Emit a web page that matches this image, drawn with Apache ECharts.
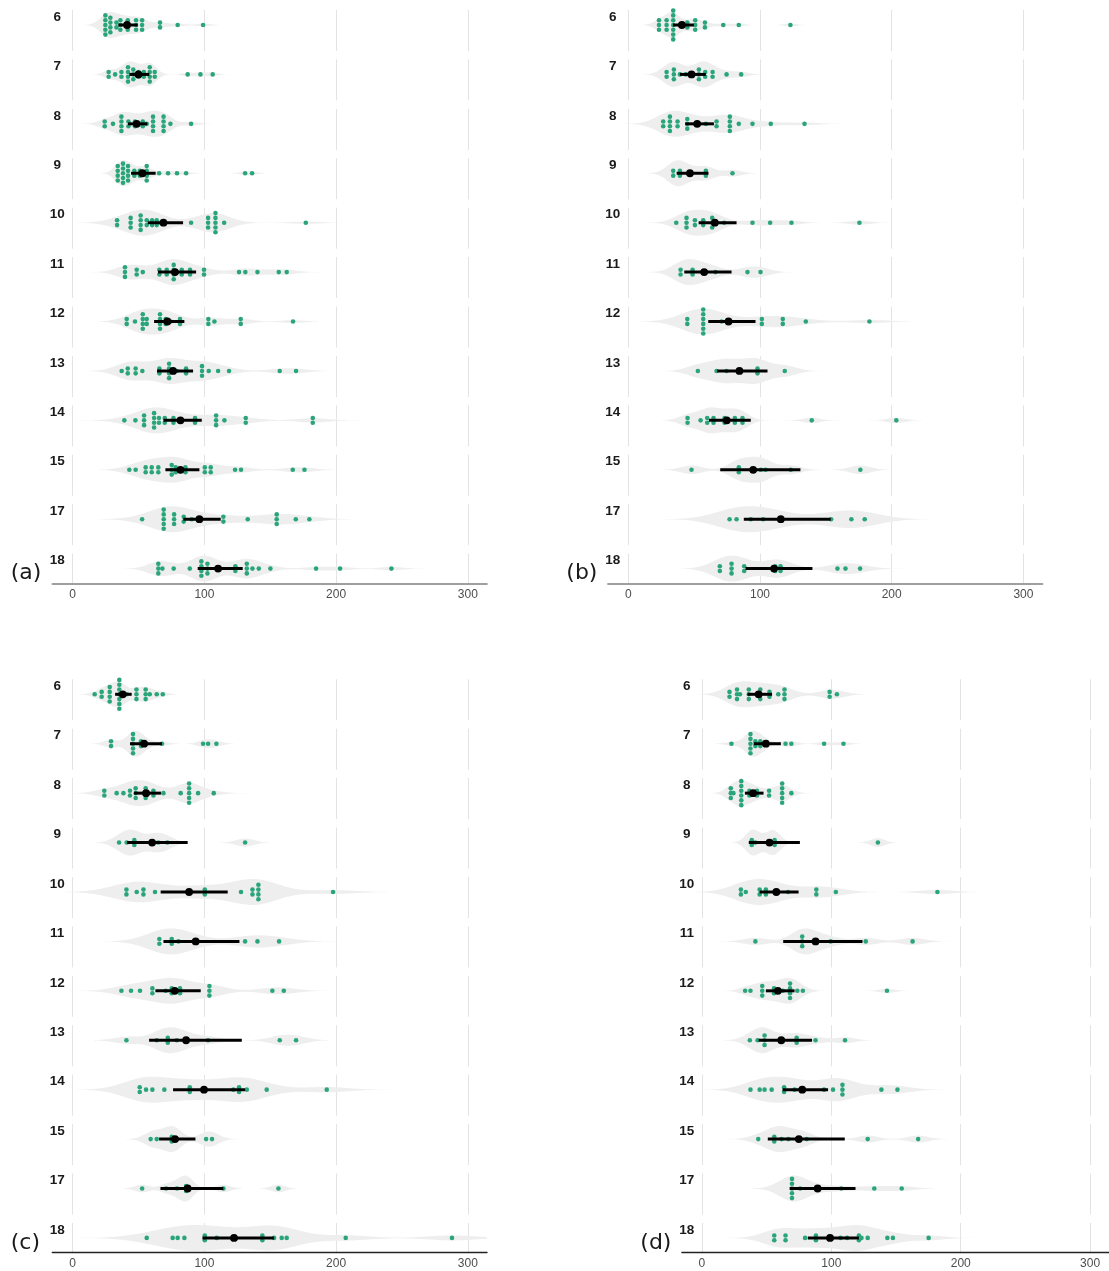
<!DOCTYPE html>
<html><head><meta charset="utf-8">
<script src="https://cdn.jsdelivr.net/npm/echarts@6/dist/echarts.min.js"></script>
<style>html,body{margin:0;padding:0;background:#fff}#chart{width:1109px;height:1271px}</style>
</head><body><div id="chart"></div>
<script>
// ---------------- data ----------------
const rowLabels = ['6','7','8','9','10','11','12','13','14','15','17','18'];
const tickValues = [0, 100, 200, 300];
const panelLetters = ['(a)', '(b)', '(c)', '(d)'];

const valuesA = [
[24.8,24.8,24.8,24.8,24.8,28.6,28.6,28.6,28.6,33.2,33.2,36.2,36.2,36.2,41.8,41.8,41.8,48.1,48.1,48.1,52.7,52.7,52.7,66.3,66.3,79.7,99],
[27.3,27.3,32.2,37,37,42,42,42,42,46,46,46,50,50,54,54,58.5,58.5,58.5,58.5,62.3,62.3,87.3,97,106.3],
[24.3,24.3,30.6,37,37,37,37,42.3,42.3,47.3,47.3,53.2,53.2,56.2,61,61,61,61,69,69,69,69,74.2,89.9],
[34.2,34.2,34.2,34.2,38.2,38.2,38.2,38.2,38.2,42,42,42,42,46.8,46.8,51,51,56.2,56.2,56.2,56.2,65.6,72.4,79.2,86.1,130.9,136.2],
[33.7,33.7,44,44,44,51.6,51.6,51.6,51.6,56.2,56.2,60.3,60.3,63.8,63.8,67.3,89.9,102.8,102.8,102.8,108.4,108.4,108.4,108.4,108.4,115,177],
[39.7,39.7,39.7,48.6,48.6,53.2,65.8,65.8,71.4,71.4,76.7,76.7,76.7,76.7,82.8,82.8,89.1,89.1,99.7,99.7,126.3,131.1,140.3,156.5,162.5],
[41,41,47.3,53.2,53.2,53.2,53.2,56.2,56.2,66.3,66.3,66.3,66.3,70.6,70.6,74.4,81.5,81.5,103,103,107.6,127.6,127.6,167.3],
[37.2,41.8,41.8,47.8,47.8,52.9,65.8,65.8,73.2,73.2,73.2,73.2,79,86.1,86.1,98.2,98.2,98.2,103.3,110.4,118.7,157.2,169.6],
[39.2,47.6,54.2,54.2,54.2,61.8,61.8,61.8,61.8,65.5,65.5,69.9,69.9,76.5,76.5,81.8,92.9,92.9,108.9,108.9,108.9,115.2,131.4,131.4,182.3,182.3],
[43,47.8,55.4,55.4,60,60,65,65,75.2,75.2,75.2,78.2,78.2,81.8,85.6,85.6,100.3,100.3,104.8,104.8,123.3,127.8,167.1,176],
[52.7,69.1,69.1,69.1,69.1,69.1,77,77,77,84.3,84.3,90.4,96.2,114.4,114.4,132.9,154.9,154.9,154.9,169.4,179.7],
[65,65,65,68.1,76.7,88.9,97.7,97.7,97.7,97.7,102.3,102.3,102.3,110.4,123.5,123.5,132.2,132.2,132.2,136.5,141.3,150.1,184.8,203,242]
];
const meanA = [41.3,49.9,48.6,52.9,68.9,77.7,71.9,76.2,81.8,81.8,96.2,110.4];
const lowA  = [34.7,43,42,44.3,57,64.8,61.8,64,68.9,70.4,84,94.9];
const highA = [49.4,58.2,56.7,63,83.8,93.7,84.8,91.4,98,96.2,112.4,129.1];

const valuesB = [
[23.3,23.3,23.3,29.1,29.1,29.1,34.1,34.1,34.1,34.1,34.1,34.1,34.1,39.2,44.8,44.8,50.8,50.8,50.8,58.2,58.2,72.1,83.9,123.1],
[29.1,29.1,34.6,34.6,34.6,39.2,43.7,53.6,53.6,53.6,58.4,58.4,64,64,74.6,85.7],
[26.5,26.5,31.6,31.6,31.6,31.6,37.4,37.4,44.8,44.8,44.8,52.3,58.9,67,67,77.1,77.1,77.1,77.1,83.9,94.3,108.2,133.8],
[34.1,34.1,39.2,39.2,46.8,58.9,58.9,79.1],
[36.4,44.2,44.2,44.2,50.6,50.6,56.9,56.9,63.7,63.7,63.7,72.8,94.3,107.7,123.9,175.5],
[39.7,39.7,48.8,48.8,57.6,66.2,90.5,100.4],
[44.8,44.8,56.9,56.9,56.9,56.9,56.9,56.9,70.8,76.1,101.4,101.4,117.3,117.3,134.8,183.1],
[52.8,67,74.6,84.4,98.1,98.1,118.8],
[45,45,54.9,59.9,59.9,64.7,64.7,73.1,73.1,80.9,80.9,86.7,86.7,139.3,203.5],
[48,83.9,83.9,94.8,100.6,104.2,123.4,176.2],
[76.9,82.2,93,102.4,115.8,154,169.4,179.5],
[69.5,69.5,78.4,78.4,78.4,88,88,111.5,111.5,115.6,115.6,158.8,164.9,176]
];
const meanB = [40.7,48,52.3,46.8,65.7,57.6,76.1,84.4,74.8,94.8,115.8,110.7];
const lowB  = [33.9,39.2,43.2,36.7,53.4,42.5,60.7,67.5,61.2,69.8,87.7,89];
const highB = [49.8,58.9,65,60.9,82.2,78.4,96.6,105.7,93,130.7,153.7,139.8];

const valuesC = [
[16.7,22,22,28.1,28.1,28.1,28.1,35.4,35.4,35.4,35.4,35.4,35.4,35.4,41,48.4,48.4,48.4,55.4,55.4,55.4,58.5,63.8,68.4],
[29.1,29.1,45.8,45.8,45.8,45.8,45.8,51.9,51.9,54.2,67.8,99,102.8,109.1],
[24,24,33.4,38.5,43.5,43.5,47.8,47.8,47.8,55.4,55.4,55.4,61.3,61.3,68.9,82,88.4,88.4,88.4,88.4,88.4,95.2,107.1],
[35.2,41,46.8,46.8,60.3,65,71.9,130.9],
[40.8,40.8,48.6,53.7,53.7,62.5,88.4,100.3,100.3,127.8,136.5,136.5,141,141,141,141,197.7],
[65.8,65.8,75.2,75.2,80.3,93.4,130.9,140.3,156.7],
[37,44.3,51.1,60.5,60.5,70.6,75.2,75.2,79,81.5,81.5,103.8,103.8,103.8,151.6,160.3],
[40.8,63.8,72.2,72.2,79,86.1,102.8,157.2,169.6],
[50.9,50.9,55.7,60.5,69.6,88.9,88.9,99.7,122,126.3,126.3,132.2,147.3,192.9],
[59.2,63.8,75.2,75.2,77.7,101.3,105.8],
[52.7,70.9,79.2,86.1,86.1,87.3,114.4,156.2],
[56.2,75.9,79.7,84.8,100.3,100.3,109.4,122.5,144,144,152.9,158.7,162.5,207.3,288]
];
const meanC = [38,54.2,55.7,60.3,88.4,93.4,77.5,86.1,99.7,77.7,87.3,122.5];
const lowC  = [32.2,43.5,46.6,41.3,66.8,68.9,62.8,58,76.2,65.6,66.6,98.5];
const highC = [44.8,67.8,67,87.3,117.7,126.6,97.2,128.4,130.9,93.2,114.4,152.9];

const valuesD = [
[21.3,21.3,27.1,27.1,27.1,29.4,36.2,36.2,36.2,45.1,45.1,45.1,52.2,52.2,59,63.8,63.8,63.8,98.7,98.7,104.3],
[22.8,37.5,37.5,37.5,37.5,37.5,41.3,41.3,45.1,45.1,49.4,64.6,69.1,94.4,109.4],
[22.3,22.3,22.3,24.3,30.4,30.4,30.4,30.4,30.4,30.4,36.7,36.7,39.5,42.5,42.5,51.9,51.9,62,62,62,62,62,69.1],
[38.5,38.5,41.3,52.2,56.2,56.2,136],
[30.1,30.1,33.9,44.6,44.6,49.4,49.4,57.5,66.6,88.4,88.4,103.5,182],
[41.3,77.5,77.5,77.5,87.8,99.5,126.6,162.8],
[33.4,37.5,46.6,46.6,46.6,55.7,55.7,58.7,62.5,68.1,68.1,68.1,68.1,73.7,78,143],
[37,43,48.4,48.4,48.4,61.3,73.2,73.2,87.8,110.6],
[37.5,44.6,48.4,53.9,63.5,63.5,71.6,77.5,94.4,101.3,108.6,108.6,108.6,138.7,151.1],
[43.5,55.9,55.9,61.5,66.8,74.9,81,128.1,167.1],
[69.6,69.6,69.6,69.6,69.6,75.9,89.4,107.6,133.2,154.4],
[55.9,55.9,64.6,64.6,79.7,88.1,88.1,99,107.1,112.2,121.3,121.3,123.3,128.1,143.3,147.6,175.2]
];
const meanD = [43.8,49.4,39.5,52.2,57.5,87.8,58.7,61.3,77.5,74.9,89.4,99];
const lowD  = [35.2,40,33.2,36.2,44.6,62.8,49.4,43.8,62.3,50.9,67.8,81.8];
const highD = [54.2,61,47.6,75.7,74.7,124.1,71.6,85.1,97.5,110.4,118.7,121.3];

// ---------------- layout / style ----------------
const PX = 1.317;            // pixels per x unit
const XMIN = -15.5, XMAX = 314.6;
const PITCH = 49.42;         // facet pitch (px)
const FACET_UP = 15, FACET_DOWN = 26, LAST_DOWN = 14.7;
const HALF_W = 13;           // violin max half width (px)
const DOT_STEP = 4.8;        // beeswarm vertical step (px)
const BW_ADJUST = 0.72;
const GREEN = '#2aa57a', VIOLIN = '#eeeeee', GRID = '#e3e3e3';

const panels = [
  {values: valuesA, mean: meanA, low: lowA, high: highA, x0: 72.7,  y0: 25,    axisColor: '#808080', axisWidth: 1.6},
  {values: valuesB, mean: meanB, low: lowB, high: highB, x0: 628.3, y0: 25,    axisColor: '#808080', axisWidth: 1.6},
  {values: valuesC, mean: meanC, low: lowC, high: highC, x0: 72.7,  y0: 694.3, axisColor: '#222222', axisWidth: 1.3},
  {values: valuesD, mean: meanD, low: lowD, high: highD, x0: 702.3, y0: 694.3, axisColor: '#222222', axisWidth: 1.3}
];

// ---------------- helpers ----------------
function quantile(s, p) {
  const h = (s.length - 1) * p, lo = Math.floor(h), hi = Math.ceil(h);
  return s[lo] + (s[hi] - s[lo]) * (h - lo);
}
function bandwidth(v) {
  const n = v.length, s = v.slice().sort((a, b) => a - b);
  const m = v.reduce((a, b) => a + b, 0) / n;
  const sd = Math.sqrt(v.reduce((a, b) => a + (b - m) * (b - m), 0) / (n - 1));
  const iqr = quantile(s, 0.75) - quantile(s, 0.25);
  let lo = Math.min(sd, iqr / 1.34);
  if (!(lo > 0)) lo = sd || 1;
  return BW_ADJUST * 0.9 * lo * Math.pow(n, -0.2);
}
function density(v) {
  const bw = bandwidth(v);
  const lo = Math.max(XMIN, Math.min(...v) - 3 * bw);
  const hi = Math.min(XMAX, Math.max(...v) + 3 * bw);
  const N = 200, pts = [];
  let mx = 0;
  for (let j = 0; j < N; j++) {
    const x = lo + (hi - lo) * j / (N - 1);
    let d = 0;
    for (const vi of v) { const z = (x - vi) / bw; d += Math.exp(-0.5 * z * z); }
    pts.push([x, d]);
    if (d > mx) mx = d;
  }
  return pts.map(p => [p[0], p[1] / mx]);
}
function swarm(v) {
  const counts = {}, seen = {}, out = [];
  v.forEach(x => { counts[x] = (counts[x] || 0) + 1; });
  v.forEach(x => {
    const k = seen[x] || 0; seen[x] = k + 1;
    out.push([x, (k - (counts[x] - 1) / 2) * DOT_STEP]);
  });
  return out;
}

// ---------------- option ----------------
const grids = [], xAxes = [], yAxes = [], series = [], graphics = [];
let gi = 0;
panels.forEach((P, pi) => {
  rowLabels.forEach((lab, ri) => {
    const c = P.y0 + ri * PITCH;
    const last = ri === rowLabels.length - 1;
    const down = last ? LAST_DOWN : FACET_DOWN;
    grids.push({left: P.x0 + XMIN * PX, top: c - FACET_UP, width: (XMAX - XMIN) * PX, height: FACET_UP + down});
    xAxes.push({
      gridIndex: gi, type: 'value', min: XMIN, max: XMAX,
      axisLine: {show: last, onZero: false, lineStyle: {color: P.axisColor, width: P.axisWidth}},
      axisTick: {show: false, customValues: tickValues},
      axisLabel: {show: last, customValues: tickValues, color: '#4d4d4d', fontSize: 12,
                  fontFamily: 'Liberation Sans', margin: 5},
      splitLine: {show: true, lineStyle: {color: GRID, width: 1}}
    });
    yAxes.push({gridIndex: gi, type: 'value', min: -down, max: FACET_UP, show: false});

    const vals = P.values[ri];
    const dens = density(vals);
    series.push({
      type: 'custom', xAxisIndex: gi, yAxisIndex: gi, silent: true, z: 1, clip: true,
      data: [[0, 0]],
      renderItem: (params, api) => {
        const up = dens.map(p => api.coord([p[0], p[1] * HALF_W]));
        const dn = dens.slice().reverse().map(p => api.coord([p[0], -p[1] * HALF_W]));
        return {type: 'polygon', shape: {points: up.concat(dn)}, style: {fill: VIOLIN}};
      }
    });
    series.push({
      type: 'scatter', xAxisIndex: gi, yAxisIndex: gi, silent: true, z: 2,
      symbolSize: 4.6, itemStyle: {color: GREEN, opacity: 1},
      data: swarm(vals)
    });
    series.push({
      type: 'custom', xAxisIndex: gi, yAxisIndex: gi, silent: true, z: 3,
      data: [[P.mean[ri], 0, P.low[ri], P.high[ri]]],
      renderItem: (params, api) => {
        const a = api.coord([api.value(2), 0]), b = api.coord([api.value(3), 0]), m = api.coord([api.value(0), 0]);
        return {type: 'group', children: [
          {type: 'line', shape: {x1: a[0], y1: a[1], x2: b[0], y2: b[1]}, style: {stroke: '#000', lineWidth: 3}},
          {type: 'circle', shape: {cx: m[0], cy: m[1], r: 3.9}, style: {fill: '#000'}}
        ]};
      }
    });
    graphics.push({
      type: 'text', x: P.x0 - 15.5, y: c - 8, z: 10, silent: true,
      style: {text: lab, fill: '#1a1a1a', font: 'bold 13.5px "Liberation Sans"',
              align: 'center', verticalAlign: 'middle', textAlign: 'center', textVerticalAlign: 'middle'}
    });
    gi++;
  });
  graphics.push({
    type: 'text', x: P.x0 - 62, y: P.y0 + 11 * PITCH + 5, z: 10, silent: true,
    style: {text: panelLetters[pi], fill: '#1a1a1a', font: '22px "DejaVu Sans"',
            align: 'left', verticalAlign: 'middle', textAlign: 'left', textVerticalAlign: 'middle'}
  });
});

const chart = echarts.init(document.getElementById('chart'), null, {renderer: 'canvas'});
chart.setOption({
  backgroundColor: '#ffffff',
  animation: false,
  grid: grids, xAxis: xAxes, yAxis: yAxes, series: series,
  graphic: {elements: graphics}
});
</script></body></html>
